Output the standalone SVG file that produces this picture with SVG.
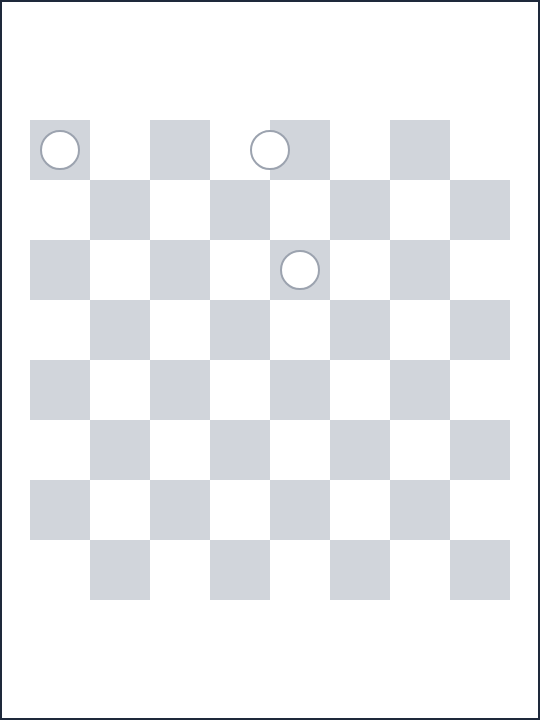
<svg xmlns="http://www.w3.org/2000/svg" width="540" height="720" viewBox="0 0 540 720">
<style>
.dk{fill:#d1d5db}
.pc{fill:#ffffff;stroke:#9ca3af;stroke-width:2}
</style>
<defs>
<g id="row0">
<rect class="dk" x="0" y="0" width="60" height="60"/>
<rect class="dk" x="120" y="0" width="60" height="60"/>
<rect class="dk" x="240" y="0" width="60" height="60"/>
<rect class="dk" x="360" y="0" width="60" height="60"/>
</g>
</defs>
<rect x="0" y="0" width="540" height="720" fill="#ffffff"/>
<g id="board">
<use href="#row0" x="30" y="120"/>
<use href="#row0" x="90" y="180"/>
<use href="#row0" x="30" y="240"/>
<use href="#row0" x="90" y="300"/>
<use href="#row0" x="30" y="360"/>
<use href="#row0" x="90" y="420"/>
<use href="#row0" x="30" y="480"/>
<use href="#row0" x="90" y="540"/>
</g>
<g id="pieces">
<circle id="p1" class="pc" cx="60" cy="150" r="19"/>
<circle id="p2" class="pc" cx="270" cy="150" r="19"/>
<circle id="p3" class="pc" cx="300" cy="270" r="19"/>
</g>
<g id="connectors"/>
<rect x="1" y="1" width="538" height="718" fill="none" stroke="#1e293b" stroke-width="2"/>
</svg>
